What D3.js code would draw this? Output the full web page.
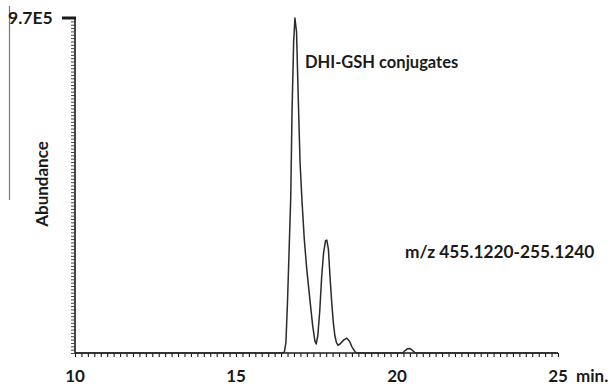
<!DOCTYPE html>
<html><head><meta charset="utf-8">
<script src="https://cdn.jsdelivr.net/npm/d3@7"></script>
<style>body{margin:0;background:#fff;}svg{display:block;}</style>
</head><body>
<script>
// Data: retention time (min) and abundance (x1e5 counts)
const times = [10.0,16.40,16.50,16.55,16.60,16.65,16.70,16.74,16.79,16.83,16.88,16.93,16.99,17.05,17.12,17.20,17.30,17.38,17.45,17.49,17.54,17.60,17.66,17.72,17.78,17.82,17.87,17.92,17.97,18.02,18.07,18.12,18.17,18.25,18.35,18.44,18.52,18.60,18.70,18.75,20.18,20.25,20.32,20.38,20.45,20.52,20.56,25.0];
const abundance = [0,0,0.02,0.3,1.5,3.0,4.5,7.0,9.0,9.7,9.3,7.5,5.5,4.4,3.3,2.4,1.5,0.8,0.35,0.26,0.5,1.2,2.2,2.9,3.25,3.27,3.0,2.2,1.5,0.9,0.5,0.3,0.22,0.28,0.38,0.43,0.35,0.18,0.03,0,0,0.07,0.12,0.13,0.1,0.04,0,0];
const xTickLabels = ["10","15","20","25"];
const xTickValues = [10,15,20,25];
const yMaxLabel = "9.7E5";
const annotation1 = "DHI-GSH conjugates";
const annotation2 = "m/z 455.1220-255.1240";

const W = 616, H = 386;
const svg = d3.select("body").append("svg").attr("width", W).attr("height", H);
const x = d3.scaleLinear().domain([10, 25]).range([75, 558]);
const y = d3.scaleLinear().domain([0, 9.7]).range([353, 18]);
const font = "Lato, 'Open Sans', sans-serif";
const ink = "#1a1a1a";

// left border artifact line
svg.append("line").attr("x1", 9.5).attr("x2", 9.5).attr("y1", 6).attr("y2", 200)
  .attr("stroke", "#777").attr("stroke-width", 1.2);

// X axis with minor ticks
const xMinor = d3.range(10, 25.0001, 0.2);
const xAxis = d3.axisBottom(x).tickValues(xMinor).tickSize(4).tickFormat("");
const gx = svg.append("g").attr("transform", "translate(0,353)").call(xAxis);
gx.select(".domain").attr("stroke", ink).attr("stroke-width", 1.6).attr("d", `M${x(10)},0H${x(25)}`);
gx.selectAll(".tick line").attr("stroke", ink).attr("stroke-width", 1.1);

// X tick labels
svg.append("g").selectAll("text").data(xTickValues).join("text")
  .attr("x", d => x(d)).attr("y", 382).attr("text-anchor", "middle")
  .attr("font-family", font).attr("font-weight", "bold").attr("font-size", 17).attr("fill", ink)
  .text((d, i) => xTickLabels[i]);
svg.append("text").attr("x", x(25) + 18).attr("y", 382)
  .attr("font-family", font).attr("font-weight", "bold").attr("font-size", 17).attr("fill", ink)
  .text("min.");

// Y axis with minor ticks
const yMinor = d3.range(0, 101).map(i => i * 0.097);
const yAxis = d3.axisLeft(y).tickValues(yMinor).tickSize(4).tickFormat("");
const gy = svg.append("g").attr("transform", "translate(75,0)").call(yAxis);
gy.select(".domain").attr("stroke", ink).attr("stroke-width", 1.6).attr("d", `M0,${y(9.7)}V${y(0)}`);
gy.selectAll(".tick line").attr("stroke", "#333").attr("stroke-width", 0.9);

// top thick tick
svg.append("line").attr("x1", 62).attr("x2", 76).attr("y1", y(9.7)).attr("y2", y(9.7))
  .attr("stroke", ink).attr("stroke-width", 3);
svg.append("text").attr("x", 8).attr("y", 24)
  .attr("font-family", font).attr("font-weight", "bold").attr("font-size", 17.5).attr("fill", ink)
  .text(yMaxLabel);

// Y label
svg.append("text").attr("transform", `translate(48,184) rotate(-90)`).attr("text-anchor", "middle")
  .attr("font-family", font).attr("font-weight", "bold").attr("font-size", 17).attr("fill", ink)
  .text("Abundance");

// Trace
const pts = times.map((t, i) => [t, abundance[i]]);
const line = d3.line().x(d => x(d[0])).y(d => y(d[1]));
svg.append("path").datum(pts).attr("d", line).attr("fill", "none")
  .attr("stroke", "#2a2a2a").attr("stroke-width", 1.5).attr("stroke-linejoin", "round");

// annotations
svg.append("text").attr("x", 305).attr("y", 68)
  .attr("font-family", font).attr("font-weight", "bold").attr("font-size", 16.5).attr("fill", ink)
  .text(annotation1);
svg.append("text").attr("x", 405).attr("y", 258)
  .attr("font-family", font).attr("font-weight", "bold").attr("font-size", 17.3).attr("fill", ink)
  .text(annotation2);
</script>
</body></html>
